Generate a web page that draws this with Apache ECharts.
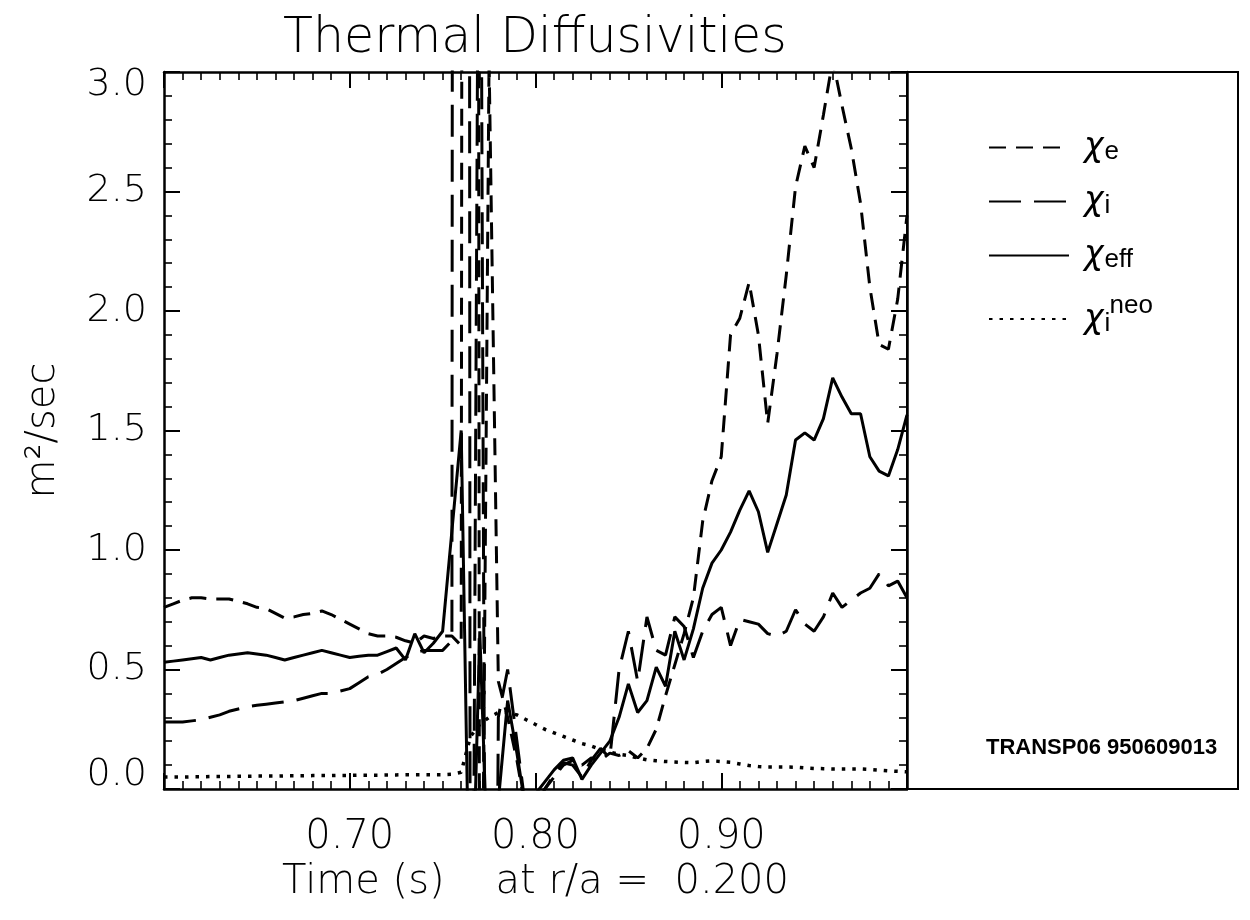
<!DOCTYPE html>
<html>
<head>
<meta charset="utf-8">
<script src="https://cdn.jsdelivr.net/npm/echarts@6/dist/echarts.min.js"></script>
<style>html,body{margin:0;padding:0;background:#fff;}#c{width:1250px;height:920px;}</style>
</head>
<body>
<div id="c"></div>
<script>
// time (s)
const timeS = [0.600,0.605,0.610,0.615,0.620,0.625,0.630,0.635,0.640,0.645,
0.650,0.655,0.660,0.665,0.670,0.675,0.680,0.685,0.690,0.695,
0.700,0.705,0.710,0.715,0.720,0.725,0.730,0.735,0.740,0.745,
0.750,0.755,0.760,0.765,0.770,0.775,0.780,0.785,0.790,0.795,
0.800,0.805,0.810,0.815,0.820,0.825,0.830,0.835,0.840,0.845,
0.850,0.855,0.860,0.865,0.870,0.875,0.880,0.885,0.890,0.895,
0.900,0.905,0.910,0.915,0.920,0.925,0.930,0.935,0.940,0.945,
0.950,0.955,0.960,0.965,0.970,0.975,0.980,0.985,0.990,0.995,1.000];

// chi_e (m^2/s)
const chiE = [0.76,0.775,0.79,0.80,0.80,0.795,0.795,0.795,0.785,0.775,
0.76,0.755,0.735,0.715,0.72,0.73,0.735,0.745,0.73,0.71,
0.69,0.67,0.65,0.64,0.64,0.635,0.62,0.61,0.64,0.63,
0.64,0.64,0.60,40,-2,3.05,0.45,0.30,0.12,-0.1,
-0.05,0.0,0.05,0.10,0.12,0.10,0.13,0.12,0.15,0.14,
0.16,0.13,0.17,0.25,0.39,0.52,0.65,0.80,1.12,1.29,
1.39,1.90,1.97,2.12,1.90,1.53,1.82,2.15,2.52,2.69,
2.60,2.82,3.05,2.86,2.68,2.45,2.10,1.86,1.84,2.05,2.40];

// chi_i
const chiI = [0.28,0.28,0.28,0.285,0.29,0.30,0.31,0.325,0.335,0.345,
0.35,0.355,0.36,0.365,0.37,0.38,0.39,0.40,0.40,0.41,
0.42,0.445,0.47,0.48,0.50,0.525,0.55,0.57,0.58,0.58,
0.58,0.62,60,-3,5,-5,0.30,0.50,0.20,-0.1,
-0.2,0.0,0.06,0.11,0.10,0.05,0.12,0.17,0.13,0.50,
0.66,0.45,0.72,0.58,0.56,0.72,0.68,0.55,0.66,0.73,
0.76,0.60,0.71,0.70,0.69,0.65,0.64,0.66,0.75,0.69,
0.66,0.72,0.82,0.76,0.79,0.82,0.84,0.90,0.85,0.87,0.80];

// chi_eff
const chiEff = [0.53,0.535,0.54,0.545,0.55,0.54,0.55,0.56,0.565,0.57,
0.565,0.56,0.55,0.54,0.55,0.56,0.57,0.58,0.57,0.56,
0.55,0.555,0.56,0.56,0.575,0.59,0.54,0.65,0.57,0.61,
0.66,1.08,1.50,-0.8,0.66,-0.5,-0.05,0.37,0.15,-0.1,
-0.02,0.03,0.08,0.12,0.13,0.04,0.10,0.15,0.20,0.30,
0.44,0.32,0.37,0.51,0.43,0.66,0.54,0.67,0.84,0.945,
1.00,1.075,1.167,1.247,1.16,0.99,1.11,1.23,1.46,1.49,
1.46,1.55,1.72,1.64,1.57,1.57,1.39,1.33,1.31,1.42,1.565];

// chi_i neo
const chiNeo = [0.050,0.050,0.050,0.051,0.051,0.052,0.052,0.052,0.053,0.053,
0.054,0.054,0.054,0.055,0.055,0.055,0.056,0.056,0.056,0.057,
0.057,0.058,0.058,0.058,0.059,0.059,0.060,0.060,0.060,0.060,
0.060,0.062,0.070,0.22,0.27,0.30,0.32,0.32,0.31,0.29,
0.27,0.25,0.235,0.22,0.205,0.19,0.18,0.165,0.155,0.145,
0.14,0.13,0.122,0.118,0.115,0.113,0.111,0.11,0.115,0.118,
0.115,0.112,0.105,0.098,0.094,0.092,0.092,0.092,0.091,0.088,
0.086,0.085,0.084,0.084,0.084,0.084,0.082,0.079,0.076,0.074,0.072];

const xLabels = ['0.70','0.80','0.90'];
const yLabels = ['0.0','0.5','1.0','1.5','2.0','2.5','3.0'];

const pair = vals => timeS.map((t, i) => [t, vals[i]]);

const FONT = 'DejaVu Sans';
const chart = echarts.init(document.getElementById('c'), null, {renderer: 'canvas'});

const axisLineStyle = {show: true, onZero: false, lineStyle: {color: '#000', width: 2.5}};
const axisTickStyle = {show: true, inside: true, length: 16, lineStyle: {color: '#000', width: 2}};
const minorLine = {color: '#000', width: 1.6};

const legendNames = {
  'χe': '{g|χ}{s|e}',
  'χi': '{g|χ}{s|i}',
  'χeff': '{g|χ}{s|eff}',
  'χineo': '{g4|χ}{si|i}{sup|neo}'
};

chart.setOption({
  animation: false,
  backgroundColor: '#fff',
  title: {
    text: 'Thermal Diffusivities',
    left: 278, top: 10,
    textStyle: {fontFamily: FONT, fontSize: 49, fontWeight: 200, color: '#000'}
  },
  grid: {left: 164, top: 72, right: 343, bottom: 131, containLabel: false},
  xAxis: [
    {
      type: 'value', min: 0.6, max: 1.0, interval: 0.1, position: 'bottom',
      axisLine: axisLineStyle, axisTick: axisTickStyle, splitLine: {show: false},
      minorTick: {show: true, splitNumber: 10, length: 8, lineStyle: minorLine},
      axisLabel: {
        show: true, margin: 29, color: '#000', fontFamily: FONT, fontSize: 40, fontWeight: 200,
        formatter: v => { const s = v.toFixed(2); return xLabels.indexOf(s) >= 0 ? s : ''; }
      },
      name: 'Time (s)    at r/a =  0.200',
      nameLocation: 'middle', nameGap: 68,
      nameTextStyle: {color: '#000', fontFamily: FONT, fontSize: 40, fontWeight: 200}
    },
    {
      type: 'value', min: 0.6, max: 1.0, interval: 0.1, position: 'top',
      axisLine: axisLineStyle, axisTick: axisTickStyle, splitLine: {show: false},
      minorTick: {show: true, splitNumber: 10, length: 8, lineStyle: minorLine},
      axisLabel: {show: false}
    }
  ],
  yAxis: [
    {
      type: 'value', min: 0, max: 3, interval: 0.5, position: 'left',
      axisLine: axisLineStyle, axisTick: axisTickStyle, splitLine: {show: false},
      minorTick: {show: true, splitNumber: 5, length: 8, lineStyle: minorLine},
      axisLabel: {
        show: true, margin: 17, color: '#000',
        verticalAlignMaxLabel: 'top', verticalAlignMinLabel: 'bottom',
        formatter: v => { const s = v.toFixed(1); return yLabels.indexOf(s) >= 0 ? '{t|' + s + '}' : ''; },
        rich: {t: {fontFamily: FONT, fontSize: 38, fontWeight: 200, color: '#000', lineHeight: 27}}
      },
      name: 'm²/sec', nameLocation: 'middle', nameGap: 100, nameRotate: 90,
      nameTextStyle: {color: '#000', fontFamily: FONT, fontSize: 40, fontWeight: 200}
    },
    {
      type: 'value', min: 0, max: 3, interval: 0.5, position: 'right',
      axisLine: axisLineStyle, axisTick: axisTickStyle, splitLine: {show: false},
      minorTick: {show: true, splitNumber: 5, length: 8, lineStyle: minorLine},
      axisLabel: {show: false}
    }
  ],
  legend: {
    orient: 'vertical', left: 983, top: 126,
    itemWidth: 80, itemHeight: 4, itemGap: 20,
    selectedMode: false,
    itemStyle: {opacity: 0},
    data: ['χe', 'χi', 'χeff', 'χineo'],
    formatter: n => legendNames[n],
    textStyle: {
      color: '#000',
      rich: {
        g: {fontFamily: FONT, fontStyle: 'italic', fontSize: 33, lineHeight: 40, color: '#000', padding: [0, 0, 0, 10]},
        g4: {fontFamily: FONT, fontStyle: 'italic', fontSize: 33, lineHeight: 52, color: '#000', padding: [0, 0, 0, 10]},
        s: {fontFamily: 'Liberation Sans', fontSize: 26, color: '#000', padding: [9, 0, 0, 1]},
        si: {fontFamily: 'Liberation Sans', fontSize: 26, color: '#000', width: 5, padding: [9, 0, 0, 1]},
        sup: {fontFamily: 'Liberation Sans', fontSize: 26, lineHeight: 20, color: '#000', verticalAlign: 'top'}
      }
    }
  },
  graphic: [
    {type: 'rect', silent: true, z: 100,
     shape: {x: 907, y: 72, width: 331, height: 717},
     style: {fill: 'none', stroke: '#000', lineWidth: 2}},
    {type: 'text', silent: true, z: 100, x: 986, y: 748,
     style: {text: 'TRANSP06 950609013', fill: '#000', font: 'bold 22px "Liberation Sans"', verticalAlign: 'middle'}}
  ],
  series: [
    {name: 'χe', type: 'line', data: pair(chiE), symbol: 'none', clip: true,
     lineStyle: {color: '#000', width: 3, type: [17, 10]}, itemStyle: {color: '#000'}},
    {name: 'χi', type: 'line', data: pair(chiI), symbol: 'none', clip: true,
     lineStyle: {color: '#000', width: 3, type: [32, 13]}, itemStyle: {color: '#000'}},
    {name: 'χeff', type: 'line', data: pair(chiEff), symbol: 'none', clip: true,
     lineStyle: {color: '#000', width: 3, type: 'solid'}, itemStyle: {color: '#000'}},
    {name: 'χineo', type: 'line', data: pair(chiNeo), symbol: 'none', clip: true,
     lineStyle: {color: '#000', width: 3.5, type: [3.5, 7]}, itemStyle: {color: '#000'}}
  ]
});
</script>
</body>
</html>
